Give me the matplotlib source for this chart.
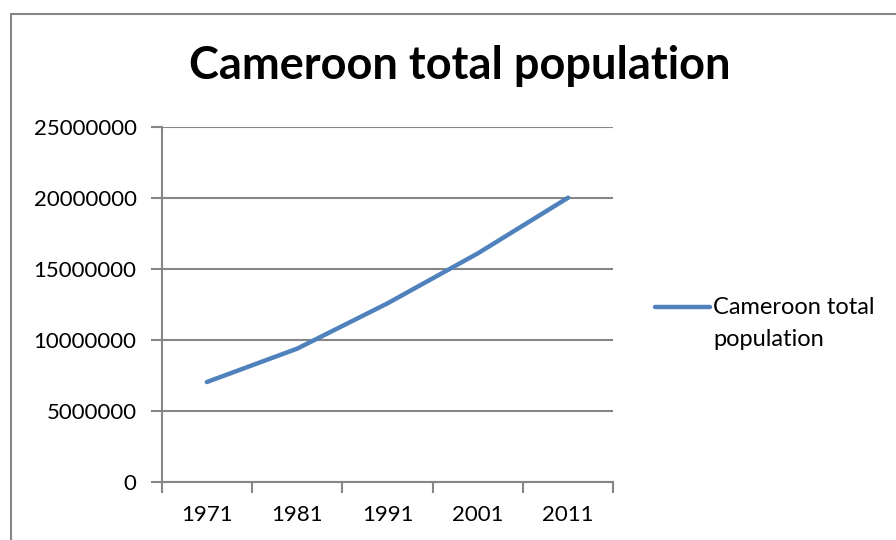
import numpy as np
import matplotlib.pyplot as plt
from matplotlib.patches import Rectangle

years = ['1971', '1981', '1991', '2001', '2011']
population = [7020000, 9370000, 12560000, 16080000, 20000000]
yticks = [0, 5000000, 10000000, 15000000, 20000000, 25000000]

plt.rcParams['font.family'] = ['Lato', 'DejaVu Sans']
grey = '#868686'
blue = '#4F81BD'

fig = plt.figure(figsize=(8.96, 5.4), dpi=100)
ax = fig.add_axes([161.7 / 896, 1 - 481.7 / 540, (613.3 - 161.7) / 896, (481.7 - 126.7) / 540])

# chart border (runs off the right and bottom edge)
fig.patches.append(Rectangle((11 / 896, -0.1), 1.0, 1 - 14 / 540 + 0.1,
                             transform=fig.transFigure, fill=False,
                             edgecolor=grey, linewidth=1.5))

x = np.arange(len(years))
ax.plot(x, population, color=blue, linewidth=3.2, solid_capstyle='round')

ax.set_xlim(-0.5, len(years) - 0.5)
ax.set_ylim(0, 25000000)
ax.set_yticks(yticks)
ax.set_yticklabels([str(v) for v in yticks], fontsize=16)
ax.yaxis.grid(True, color=grey, linewidth=1.5)
ax.set_axisbelow(True)

ax.set_xticks(np.arange(-0.5, len(years), 1.0))
ax.set_xticklabels([])
ax.set_xticks(x, minor=True)
ax.set_xticklabels(years, minor=True, fontsize=16)
ax.tick_params(axis='x', which='major', length=8, width=1.5, color=grey, direction='out')
ax.tick_params(axis='x', which='minor', length=0, pad=17)
ax.tick_params(axis='y', length=8, width=1.5, color=grey, direction='out', pad=10)

for side in ['top', 'right']:
    ax.spines[side].set_visible(False)
for side in ['left', 'bottom']:
    ax.spines[side].set_color(grey)
    ax.spines[side].set_linewidth(1.5)

fig.text(460 / 896, 1 - 66 / 540, 'Cameroon total population', ha='center', va='center',
         fontsize=32.5, fontweight='bold')

# legend
fig.lines.append(plt.Line2D([655 / 896, 710 / 896], [1 - 307 / 540, 1 - 307 / 540],
                            transform=fig.transFigure, color=blue, linewidth=3.2,
                            solid_capstyle='round'))
fig.text(713 / 896, 1 - 307 / 540, 'Cameroon total', ha='left', va='center', fontsize=17)
fig.text(713 / 896, 1 - 339 / 540, 'population', ha='left', va='center', fontsize=17)

fig.savefig('out.png', dpi=100)
